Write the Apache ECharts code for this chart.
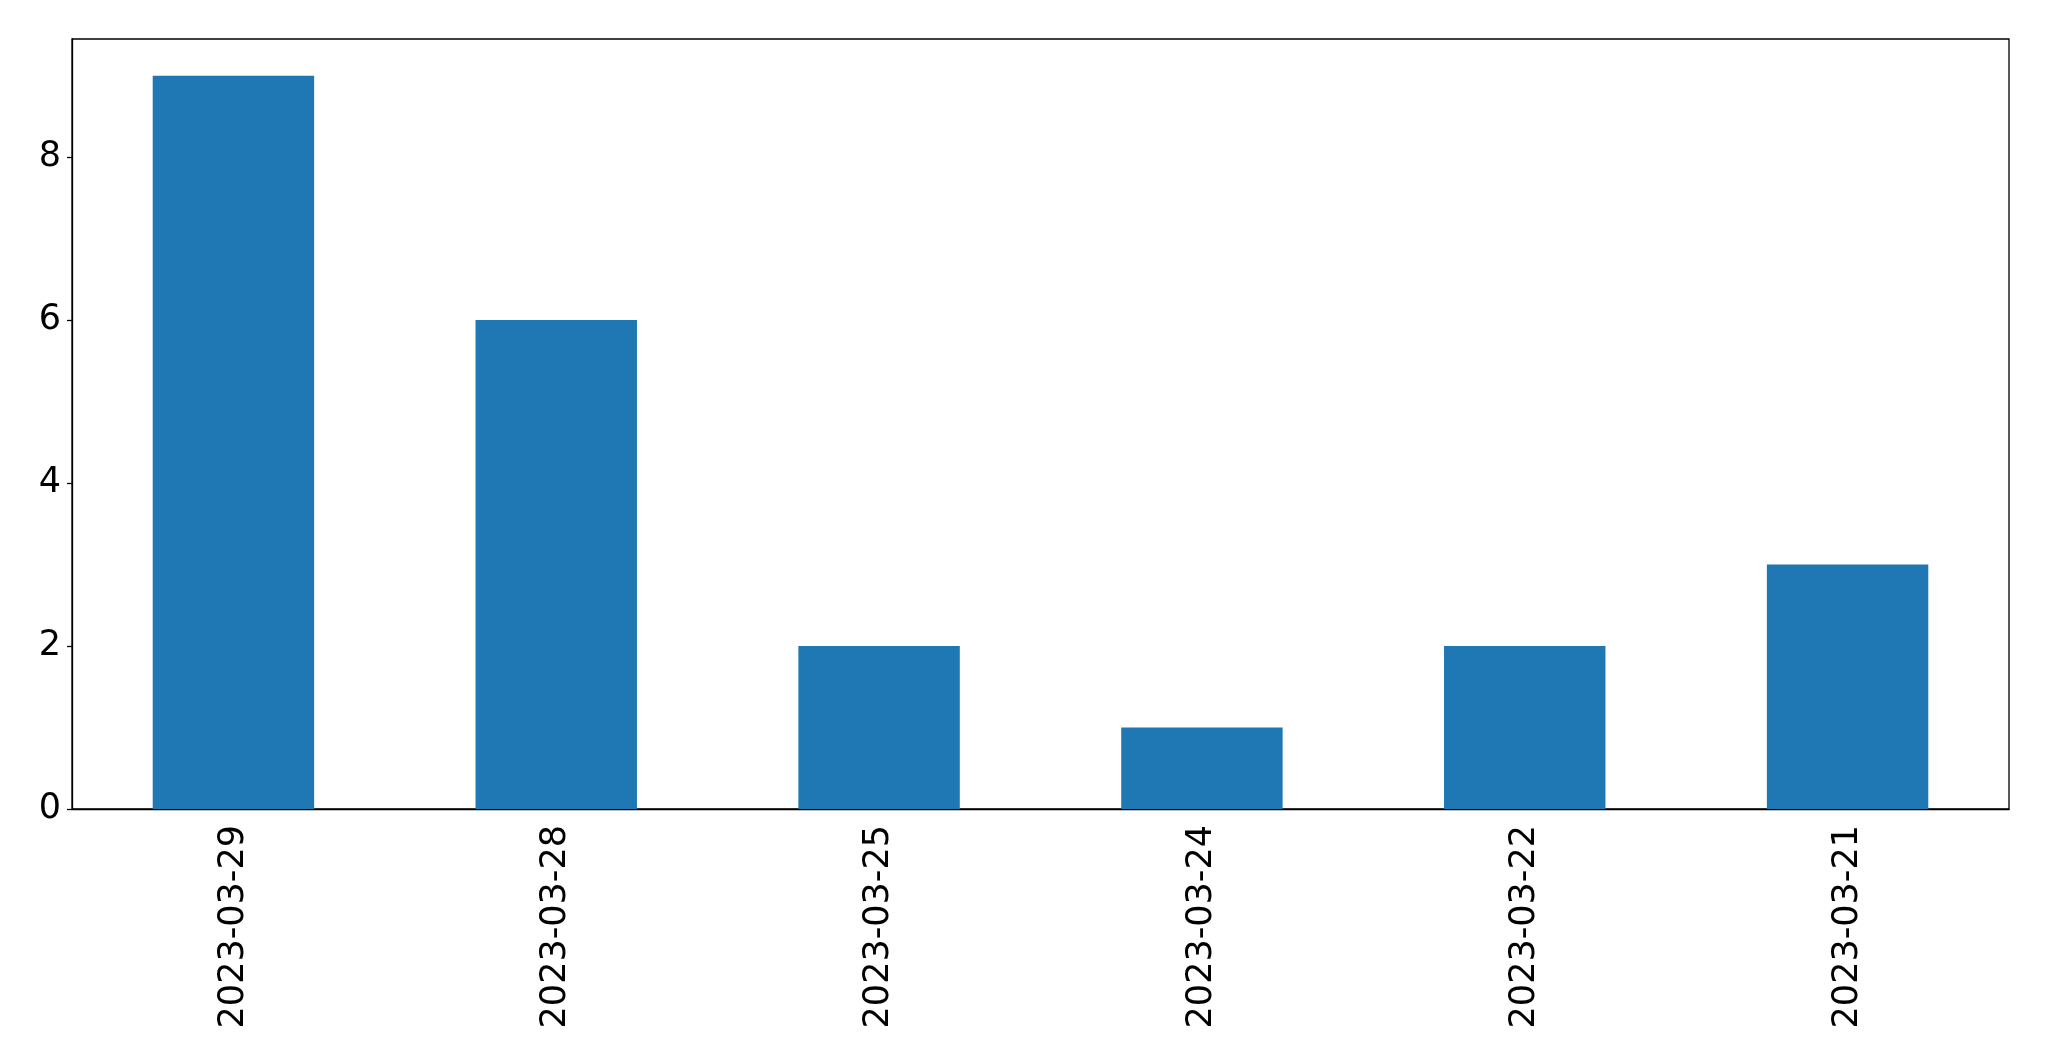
<!DOCTYPE html>
<html>
<head>
<meta charset="utf-8">
<script src="https://cdn.jsdelivr.net/npm/echarts@6/dist/echarts.min.js"></script>
<style>
  html, body { margin: 0; padding: 0; background: #fff; }
  #chart { width: 2049px; height: 1061px; }
</style>
</head>
<body>
<div id="chart"></div>
<script>
  // dates as shown on the x axis (newest first)
  const categories = ['2023-03-29', '2023-03-28', '2023-03-25', '2023-03-24', '2023-03-22', '2023-03-21']
  const counts = [9, 6, 2, 1, 2, 3]
  const yTicks = [0, 2, 4, 6, 8]

  const myChart = echarts.init(document.getElementById('chart'))
  const font = 'DejaVu Sans'

  myChart.setOption({
    animation: false,
    grid: {
      left: 72,
      right: 40,
      top: 39,
      bottom: 252,
      show: true,
      borderColor: '#000',
      borderWidth: 1.3,
      backgroundColor: 'transparent'
    },
    xAxis: {
      type: 'category',
      data: categories,
      boundaryGap: true,
      axisLine: { lineStyle: { color: '#000', width: 1.3 } },
      axisTick: { alignWithLabel: true, length: 6, lineStyle: { color: '#000', width: 1.3 } },
      axisLabel: {
        rotate: 90,
        margin: 16,
        color: '#000',
        fontFamily: font,
        fontSize: 35,
        interval: 0
      },
      splitLine: { show: false }
    },
    yAxis: {
      type: 'value',
      min: 0,
      max: 9.45,
      axisLine: { show: true, lineStyle: { color: '#000', width: 1.3 } },
      axisTick: { show: true, length: 5, customValues: yTicks, lineStyle: { color: '#000', width: 1.3 } },
      axisLabel: {
        customValues: yTicks,
        margin: 11,
        color: '#000',
        fontFamily: font,
        fontSize: 35
      },
      splitLine: { show: false }
    },
    series: [
      {
        type: 'bar',
        data: counts,
        barWidth: '50%',
        itemStyle: { color: '#1f77b4' }
      }
    ]
  })
</script>
</body>
</html>
